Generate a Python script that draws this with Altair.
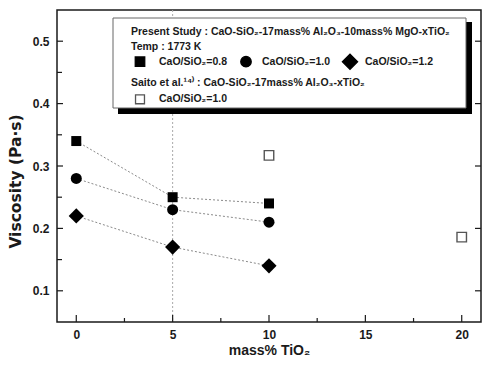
import altair as alt
import pandas as pd

# ---- data ----
tio2 = [0, 5, 10]
visc_08 = [0.34, 0.25, 0.24]
visc_10 = [0.28, 0.23, 0.21]
visc_12 = [0.22, 0.17, 0.14]
ratios = ["0.8", "1.0", "1.2"]
saito_tio2 = [10, 20]
saito_visc = [0.317, 0.186]

x_major = [0, 5, 10, 15, 20]
x_minor = [2.5, 7.5, 12.5, 17.5]
y_major = [0.1, 0.2, 0.3, 0.4, 0.5]
y_minor = [0.15, 0.25, 0.35, 0.45]
ref_x = [5]

legend_lines = [
    "Present Study : CaO-SiO₂-17mass% Al₂O₃-10mass% MgO-xTiO₂",
    "Temp : 1773 K",
    "CaO/SiO₂=0.8",
    "CaO/SiO₂=1.0",
    "CaO/SiO₂=1.2",
    "Saito et al.¹⁴⁾ : CaO-SiO₂-17mass% Al₂O₃-xTiO₂",
    "CaO/SiO₂=1.0",
]

# ---- layout ----
W, H = 424, 312
FONT = "Liberation Sans"
INK = "#1a1a1a"

xs = alt.Scale(domain=[-1, 21], nice=False, zero=False)
ys = alt.Scale(domain=[0.05, 0.55], nice=False, zero=False)

series = {
    ratios[0]: pd.DataFrame({"tio2": tio2, "visc": visc_08}),
    ratios[1]: pd.DataFrame({"tio2": tio2, "visc": visc_10}),
    ratios[2]: pd.DataFrame({"tio2": tio2, "visc": visc_12}),
}
saito = pd.DataFrame({"tio2": saito_tio2, "visc": saito_visc})

x_axis = alt.Axis(values=x_major, ticks=False, domain=False, grid=False,
                  labelFont=FONT, labelFontWeight="bold", labelFontSize=12,
                  labelColor=INK, labelPadding=7,
                  title="mass% TiO₂", titleFont=FONT, titleFontWeight="bold",
                  titleFontSize=14, titleColor=INK, titlePadding=3)
y_axis = alt.Axis(values=y_major, format=".1f", ticks=False, domain=False, grid=False,
                  labelFont=FONT, labelFontWeight="bold", labelFontSize=12,
                  labelColor=INK, labelPadding=8,
                  title="Viscosity (Pa·s)", titleFont="DejaVu Sans", titleFontWeight="bold",
                  titleFontSize=15.5, titleColor=INK, titlePadding=9, titleY=171)


def X(field):
    return alt.X(field, scale=xs, axis=x_axis)


def Y(field):
    return alt.Y(field, scale=ys, axis=y_axis)


vline = alt.Chart(pd.DataFrame({"x": ref_x})).mark_rule(
    color="#aaaaaa", strokeDash=[2, 2], strokeWidth=1
).encode(x=X("x:Q"))

layers = [vline]
for r in ratios:
    layers.append(alt.Chart(series[r]).mark_line(
        color="#8a8a8a", strokeDash=[2, 2], strokeWidth=1
    ).encode(x=X("tio2:Q"), y=Y("visc:Q")))

marker_style = {ratios[0]: ("square", 100), ratios[1]: ("circle", 121), ratios[2]: ("diamond", 230)}
for r in ratios:
    shp, sz = marker_style[r]
    layers.append(alt.Chart(series[r]).mark_point(
        shape=shp, size=sz, filled=True, opacity=1, color="black"
    ).encode(x=X("tio2:Q"), y=Y("visc:Q")))

layers.append(alt.Chart(saito).mark_point(
    shape="square", filled=True, fill="white", stroke="#555555", strokeWidth=1.4, size=90, opacity=1
).encode(x=X("tio2:Q"), y=Y("visc:Q")))


# ---- inward ticks ----
def yticks(vals, x0, x1):
    return alt.Chart(pd.DataFrame({"v": vals})).mark_rule(color=INK, strokeWidth=1.2).encode(
        y=Y("v:Q"), x=alt.value(x0), x2=alt.value(x1))


def xticks(vals, length):
    return alt.Chart(pd.DataFrame({"v": vals})).mark_rule(color=INK, strokeWidth=1.2).encode(
        x=X("v:Q"), y=alt.value(H), y2=alt.value(H - length))


layers += [
    yticks(y_major, 0, 6), yticks(y_minor, 0, 5), yticks(y_major, W - 6, W),
    xticks(x_major, 7), xticks(x_minor, 4),
]

# ---- legend box ----
dummy = pd.DataFrame({"a": [0]})
layers.append(alt.Chart(dummy).mark_rect(color="black").encode(
    x=alt.value(61), x2=alt.value(415), y=alt.value(12), y2=alt.value(104)))
layers.append(alt.Chart(dummy).mark_rect(fill="white", stroke="#666666", strokeWidth=1).encode(
    x=alt.value(56), x2=alt.value(409), y=alt.value(8), y2=alt.value(98)))

text_pos = [(74, 21.7), (74, 36.7), (102, 51.7), (205, 51.7), (308, 51.7), (74, 73.3), (102, 89.3)]
for t, (px, py) in zip(legend_lines, text_pos):
    layers.append(alt.Chart(dummy).mark_text(
        text=t, align="left", baseline="middle", font=FONT, fontWeight="bold",
        fontSize=10.5, color=INK
    ).encode(x=alt.value(px), y=alt.value(py)))

leg_marks = [
    ("square", 83, 51.7, 90, "black", "black"),
    ("circle", 189, 51.7, 110, "black", "black"),
    ("diamond", 293, 51.7, 230, "black", "black"),
    ("square", 83, 89.3, 80, "white", "#555555"),
]
for shp, px, py, sz, fl, st in leg_marks:
    layers.append(alt.Chart(dummy).mark_point(
        shape=shp, filled=True, fill=fl, stroke=st, strokeWidth=1.3, size=sz, opacity=1
    ).encode(x=alt.value(px), y=alt.value(py)))

chart = alt.layer(*layers).properties(
    width=W, height=H,
    padding={"left": 57, "top": 10, "right": 2, "bottom": 47},
    autosize=alt.AutoSizeParams(type="none"),
).configure_view(stroke=INK, strokeWidth=1.5)

chart.save("out.html", embed_options={"renderer": "svg", "actions": False})
